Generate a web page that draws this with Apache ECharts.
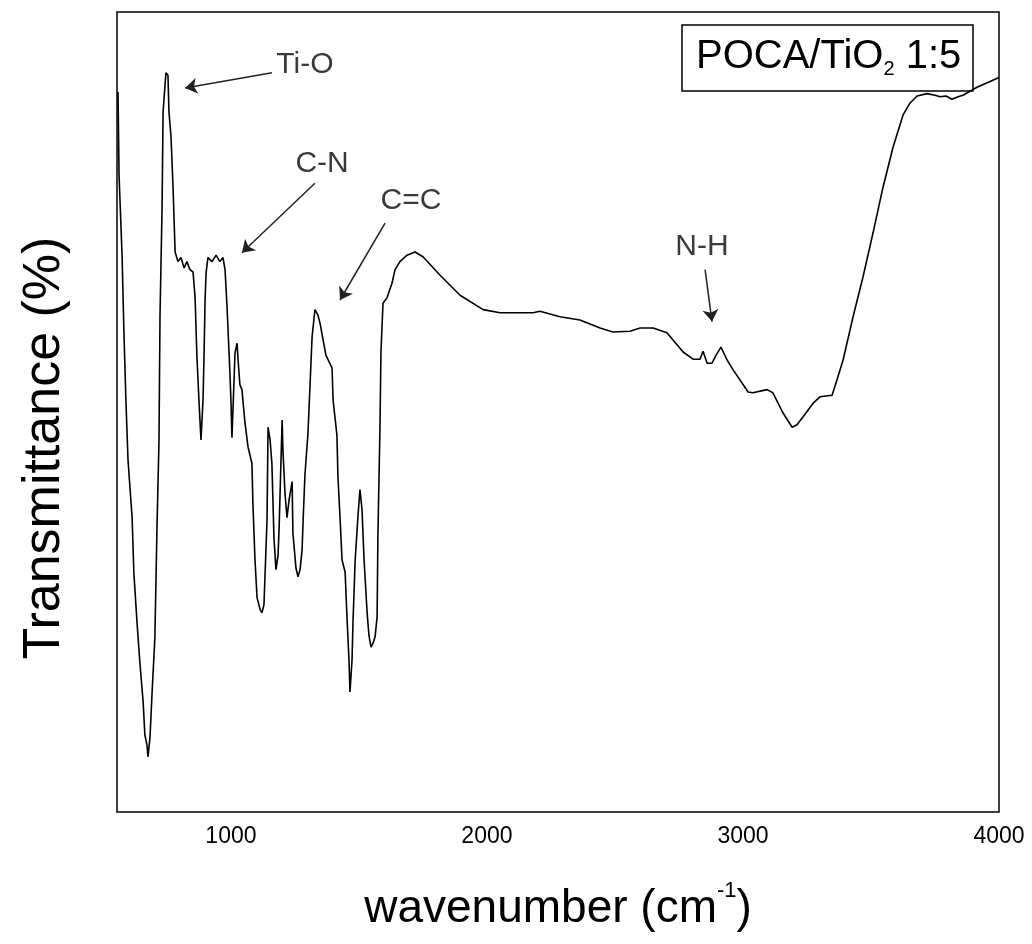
<!DOCTYPE html>
<html>
<head>
<meta charset="utf-8">
<script src="https://cdn.jsdelivr.net/npm/echarts@6/dist/echarts.min.js"></script>
<style>
html,body{margin:0;padding:0;background:#fff;}
#chart{width:1032px;height:944px;}
</style>
</head>
<body>
<div id="chart"></div>
<script>
// wavenumber (cm^-1)
const wavenumber = [559,563,575,582,590,598,614,621,633,645,657,664,672,676,684,692,703,711,719,723,731,735,746,754,758,766,774,782,793,805,817,828,840,852,860,867,875,883,891,895,899,903,910,926,942,957,969,977,985,996,1000,1004,1008,1016,1024,1028,1035,1043,1055,1067,1082,1086,1094,1102,1114,1121,1129,1141,1145,1153,1160,1168,1176,1184,1188,1200,1203,1211,1219,1227,1239,1242,1254,1262,1270,1278,1282,1289,1301,1309,1317,1328,1340,1348,1360,1371,1383,1395,1399,1414,1418,1426,1434,1446,1453,1461,1465,1473,1477,1485,1496,1504,1512,1520,1532,1539,1547,1555,1563,1571,1574,1582,1586,1594,1610,1629,1641,1660,1688,1719,1750,1817,1895,1985,2051,2180,2207,2285,2363,2442,2492,2559,2598,2649,2703,2766,2805,2832,2844,2860,2879,2895,2914,2938,2961,3020,3039,3094,3117,3156,3192,3211,3235,3274,3301,3348,3367,3391,3430,3469,3508,3547,3586,3625,3652,3680,3719,3750,3770,3793,3816,3840,3859,3914,3965,4000];
// transmittance (%, arbitrary scale)
const transmittance = [90.0,79.6,69.4,60.0,51.3,44.0,36.8,29.8,23.8,18.4,13.8,9.6,8.4,6.9,9.4,14.9,21.8,35.3,46.4,62.1,75.5,87.5,92.4,92.1,87.5,84.4,78.0,70.0,68.8,69.3,68.0,68.8,67.8,67.5,64.3,57.1,51.5,46.5,51.5,57.1,64.0,67.4,69.3,68.8,69.6,68.8,69.3,67.8,63.0,54.9,51.5,46.8,50.3,57.4,58.6,56.5,53.4,52.8,48.6,45.6,43.6,38.4,31.5,26.8,25.3,24.9,25.9,36.5,48.1,46.5,43.6,34.3,30.3,32.1,35.3,49.0,45.3,39.9,36.8,39.0,41.3,34.9,30.5,29.4,30.3,32.8,36.5,42.1,47.4,53.4,59.4,62.8,62.1,61.1,59.0,57.1,56.3,55.5,51.5,47.1,41.9,36.9,31.5,30.0,24.6,19.0,15.0,19.0,24.0,31.3,36.9,40.3,37.8,31.5,24.9,22.1,20.6,21.1,21.9,24.4,34.4,47.8,57.5,63.6,64.3,66.1,67.8,68.8,69.6,70.0,69.4,67.1,64.6,62.8,62.4,62.4,62.6,61.9,61.5,60.5,60.0,60.1,60.5,60.5,59.9,57.5,56.6,56.6,57.6,56.1,56.1,57.1,58.1,56.5,55.3,52.5,52.4,52.8,52.4,49.9,48.1,48.4,49.4,51.1,51.9,52.1,54.0,56.5,61.9,66.9,72.4,78.1,83.1,87.1,88.6,89.5,89.8,89.6,89.4,89.5,89.1,89.4,89.6,90.6,91.3,91.8];
const xTickLabels = [1000, 2000, 3000, 4000];
// annotations: label text, label anchor, arrow start, arrow end (data units)
const annotationText = ['Ti-O', 'C-N', 'C=C', 'N-H'];
const annotationLabelAt = [[1289, 93.4], [1356, 81.0], [1703, 76.4], [2840, 70.6]];
const arrowFrom = [[1160, 92.4], [1328, 78.6], [1602, 73.6], [2852, 67.8]];
const arrowTo = [[821, 90.5], [1043, 69.9], [1426, 64.0], [2879, 61.3]];

const series = wavenumber.map((w, i) => [w, transmittance[i]]);

const chart = echarts.init(document.getElementById('chart'));
chart.setOption({
  animation: false,
  backgroundColor: '#fff',
  title: {
    text: '{a|POCA/TiO}{s|2}{a| 1:5}',
    left: 682, top: 23,
    padding: [12, 12, 12, 14],
    borderColor: '#000', borderWidth: 1.5,
    textStyle: {
      fontWeight: 'normal',
      rich: {
        a: { fontFamily: 'Liberation Sans, Arial', fontSize: 40, fontWeight: 'normal', color: '#000', lineHeight: 44, verticalAlign: 'middle' },
        s: { fontFamily: 'Liberation Sans, Arial', fontSize: 20, fontWeight: 'normal', color: '#000', lineHeight: 44, verticalAlign: 'bottom', padding: [16, 0, 0, 0] }
      }
    }
  },
  grid: {
    left: 117, right: 33, top: 12, bottom: 132,
    show: true, borderColor: '#000', borderWidth: 1.5, backgroundColor: 'transparent'
  },
  xAxis: {
    type: 'value', min: 555, max: 4000,
    axisLine: { show: false }, axisTick: { show: false }, splitLine: { show: false },
    axisLabel: { customValues: xTickLabels, formatter: (v) => String(v), fontFamily: 'Liberation Sans, Arial', fontSize: 23, color: '#000', margin: 13 },
    name: '{a|wavenumber (cm}{s|-1}{a|)}',
    nameLocation: 'middle', nameGap: 68,
    nameTextStyle: {
      rich: {
        a: { fontFamily: 'Liberation Sans, Arial', fontSize: 46, color: '#000', lineHeight: 52, verticalAlign: 'bottom' },
        s: { fontFamily: 'Liberation Sans, Arial', fontSize: 22, color: '#000', lineHeight: 52, verticalAlign: 'top', padding: [0, 0, 0, 0] }
      }
    }
  },
  yAxis: {
    type: 'value', min: 0, max: 100,
    axisLine: { show: false }, axisTick: { show: false }, splitLine: { show: false },
    axisLabel: { show: false },
    name: 'Transmittance (%)',
    nameLocation: 'middle', nameGap: 46, nameRotate: 90,
    nameTextStyle: { fontFamily: 'Liberation Sans, Arial', fontSize: 52, color: '#000', padding: [0, 72, 0, 0] }
  },
  series: [{
    type: 'line',
    data: series,
    showSymbol: false,
    lineStyle: { color: '#000', width: 1.6 },
    itemStyle: { color: '#000' },
    markLine: {
      silent: true,
      symbol: ['none', 'arrow'],
      symbolSize: 12,
      label: { show: false },
      lineStyle: { color: '#222', width: 1.5, type: 'solid' },
      data: arrowFrom.map((f, i) => [{ coord: f }, { coord: arrowTo[i] }])
    },
    markPoint: {
      silent: true,
      symbol: 'circle', symbolSize: 1,
      itemStyle: { color: 'rgba(0,0,0,0)' },
      label: { show: true, position: 'inside', formatter: '{b}', fontFamily: 'Liberation Sans, Arial', fontSize: 30, color: '#3a3a3a' },
      data: annotationText.map((t, i) => ({ name: t, coord: annotationLabelAt[i] }))
    }
  }]
});
</script>
</body>
</html>
